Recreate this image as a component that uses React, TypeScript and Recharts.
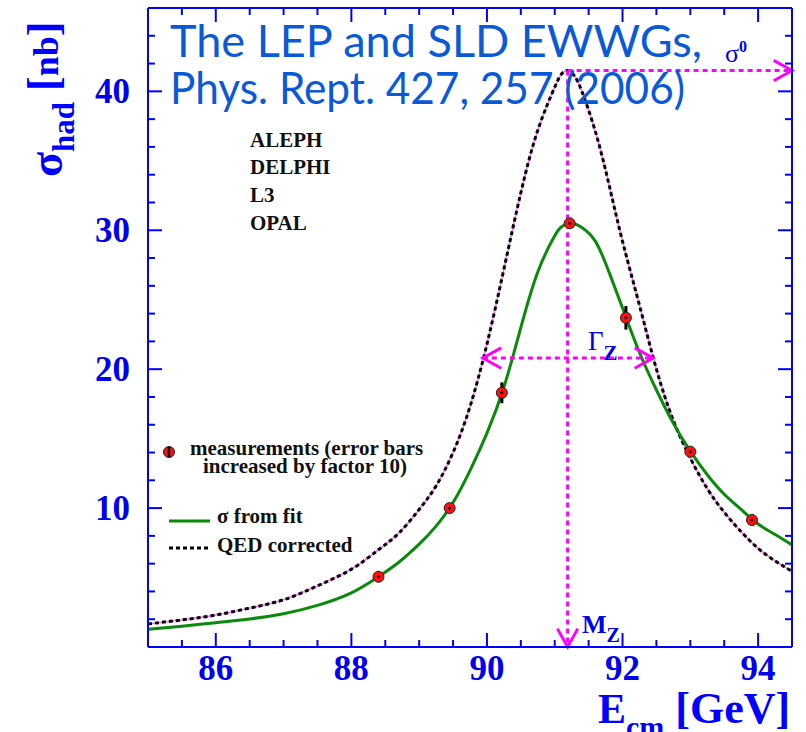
import React from 'react';
import { ComposedChart, Line, Scatter, XAxis, YAxis, ReferenceLine, ErrorBar } from 'recharts';

// ---- data ----
const energies = [85, 85.5, 86, 86.5, 87, 87.5, 88, 88.4, 88.7, 89, 89.25, 89.5, 89.75, 90, 90.25, 90.5, 90.75, 91, 91.1, 91.2, 91.3, 91.4, 91.6, 91.8, 92, 92.25, 92.5, 92.75, 93, 93.25, 93.5, 93.75, 94, 94.25, 94.5];
const fitValues = [1.27, 1.5, 1.75, 2.02, 2.4, 3.0, 3.9, 5.06, 6.1, 7.4, 8.7, 10.4, 12.7, 15.4, 18.7, 23.0, 27.0, 29.6, 30.25, 30.5, 30.45, 30.2, 29.2, 27.0, 24.4, 21.2, 18.5, 16.1, 14.1, 12.4, 11.0, 9.9, 8.85, 8.1, 7.35];
const qedValues = [1.66, 1.95, 2.3, 2.8, 3.4, 4.4, 5.6, 7.0, 8.2, 9.9, 11.6, 14.0, 17.3, 21.8, 27.2, 32.7, 37.2, 40.3, 41.25, 41.5, 41.05, 40.0, 37.1, 33.3, 29.2, 24.6, 20.0, 16.3, 13.6, 11.4, 9.7, 8.3, 7.1, 6.2, 5.45];

const measEnergies = [88.4, 89.45, 90.22, 91.22, 92.05, 93.0, 93.91];
const measSigma = [5.06, 10.0, 18.3, 30.5, 23.7, 14.06, 9.14];
const measErr = [0.4, 0.25, 0.75, 0.3, 0.85, 0.25, 0.35];

const xTicks = [85.5, 86, 86.5, 87, 87.5, 88, 88.5, 89, 89.5, 90, 90.5, 91, 91.5, 92, 92.5, 93, 93.5, 94];
const xMajor = [86, 88, 90, 92, 94];
const yTicks = [2, 4, 6, 8, 10, 12, 14, 16, 18, 20, 22, 24, 26, 28, 30, 32, 34, 36, 38, 40, 42, 44];
const yMajor = [10, 20, 30, 40];

const massZ = 91.19;
const sigma0 = 41.5;
const halfMax = 20.8;
const gammaLow = 89.94;
const gammaHigh = 92.45;

const fitData = energies.map((e, i) => ({ e, s: fitValues[i] }));
const qedData = energies.map((e, i) => ({ e, s: qedValues[i] }));
const measData = measEnergies.map((e, i) => ({ e, s: measSigma[i], err: measErr[i] }));

// ---- styles ----
const AXIS = '#0000ff';
const LABEL = '#0000ee';
const MAG = '#ff00ff';
const GREEN = '#0a8a0a';
const TITLE = '#0a5ad8';
const SERIF = '"Liberation Serif", "Times New Roman", serif';
const SANS = 'Lato, "Open Sans", sans-serif';

const BottomTick = (p: any) => {
  const v = p.payload.value;
  const major = xMajor.includes(v);
  return (
    <g>
      <line x1={p.x} x2={p.x} y1={p.y} y2={p.y - (major ? 14 : 7)} stroke={AXIS} strokeWidth={2} />
      {major && (
        <text x={p.x} y={p.y + 33} textAnchor="middle" fontFamily={SERIF} fontWeight="bold" fontSize={35} fill={LABEL}>
          {v}
        </text>
      )}
    </g>
  );
};
const TopTick = (p: any) => {
  const v = p.payload.value;
  const major = xMajor.includes(v);
  return <line x1={p.x} x2={p.x} y1={p.y} y2={p.y + (major ? 14 : 7)} stroke={AXIS} strokeWidth={2} />;
};
const LeftTick = (p: any) => {
  const v = p.payload.value;
  const major = yMajor.includes(v);
  return (
    <g>
      <line x1={p.x} x2={p.x + (major ? 14 : 7)} y1={p.y} y2={p.y} stroke={AXIS} strokeWidth={2} />
      {major && (
        <text x={p.x - 18} y={p.y + 12} textAnchor="end" fontFamily={SERIF} fontWeight="bold" fontSize={35} fill={LABEL}>
          {v}
        </text>
      )}
    </g>
  );
};
const RightTick = (p: any) => {
  const v = p.payload.value;
  const major = yMajor.includes(v);
  return <line x1={p.x} x2={p.x - (major ? 14 : 7)} y1={p.y} y2={p.y} stroke={AXIS} strokeWidth={2} />;
};

const headPath = (x: number, y: number, dir: number) => {
  const L = 21;
  const a = Math.PI / 6.2;
  const bx1 = x - L * Math.cos(dir - a);
  const by1 = y - L * Math.sin(dir - a);
  const bx2 = x - L * Math.cos(dir + a);
  const by2 = y - L * Math.sin(dir + a);
  return `M${bx1},${by1} L${x},${y} L${bx2},${by2}`;
};

const makeArrow = (both: boolean) => (p: any) => {
  const { x1, y1, x2, y2 } = p;
  const dir = Math.atan2(y2 - y1, x2 - x1);
  let d = headPath(x2, y2, dir);
  if (both) d += ' ' + headPath(x1, y1, dir + Math.PI);
  return (
    <g>
      <line x1={x1} y1={y1} x2={x2} y2={y2} stroke={MAG} strokeWidth={3} strokeDasharray="5 4" />
      <path d={d} stroke={MAG} strokeWidth={3} fill="none" />
    </g>
  );
};

const MeasDot = (p: any) => (
  <g>
    <circle cx={p.cx} cy={p.cy} r={5.5} fill="#ff1010" stroke="#222" strokeWidth={1} />
    <circle cx={p.cx} cy={p.cy} r={1.5} fill="#000" />
  </g>
);
const NoShape = () => <g />;

export default function App() {
  return (
    <div style={{ position: 'absolute', left: 0, top: 0, width: 806, height: 732, background: '#fff' }}>
      <ComposedChart width={806} height={732} margin={{ top: 4, right: 10, bottom: 45, left: 88 }}>
        <XAxis
          dataKey="e"
          type="number"
          domain={[85, 94.5]}
          allowDataOverflow
          ticks={xTicks}
          interval={0}
          tick={BottomTick}
          tickLine={false}
          tickSize={0}
          tickMargin={0}
          height={40}
          axisLine={{ stroke: AXIS, strokeWidth: 2 }}
        />
        <XAxis
          xAxisId="top"
          orientation="top"
          dataKey="e"
          type="number"
          domain={[85, 94.5]}
          allowDataOverflow
          ticks={xTicks}
          interval={0}
          tick={TopTick}
          tickLine={false}
          tickSize={0}
          tickMargin={0}
          height={4}
          axisLine={{ stroke: AXIS, strokeWidth: 2 }}
        />
        <YAxis
          dataKey="s"
          type="number"
          domain={[0, 46]}
          allowDataOverflow
          ticks={yTicks}
          interval={0}
          tick={LeftTick}
          tickLine={false}
          tickSize={0}
          tickMargin={0}
          width={60}
          axisLine={{ stroke: AXIS, strokeWidth: 2 }}
        />
        <YAxis
          yAxisId="right"
          orientation="right"
          type="number"
          domain={[0, 46]}
          allowDataOverflow
          ticks={yTicks}
          interval={0}
          tick={RightTick}
          tickLine={false}
          tickSize={0}
          tickMargin={0}
          width={4}
          axisLine={{ stroke: AXIS, strokeWidth: 2 }}
        />
        <Line data={qedData} dataKey="s" type="natural" stroke="#ff66ff" strokeWidth={1.5} dot={false} isAnimationActive={false} />
        <Line data={qedData} dataKey="s" type="natural" stroke="#000" strokeWidth={3} strokeDasharray="4 3" dot={false} isAnimationActive={false} />
        <Line data={fitData} dataKey="s" type="natural" stroke={GREEN} strokeWidth={3} dot={false} isAnimationActive={false} />
        <ReferenceLine segment={[{ x: massZ, y: sigma0 }, { x: massZ, y: 0 }]} ifOverflow="visible" shape={makeArrow(false)} />
        <ReferenceLine segment={[{ x: massZ, y: sigma0 }, { x: 94.5, y: sigma0 }]} ifOverflow="visible" shape={makeArrow(false)} />
        <ReferenceLine segment={[{ x: gammaLow, y: halfMax }, { x: gammaHigh, y: halfMax }]} ifOverflow="visible" shape={makeArrow(true)} />
        <Scatter data={measData} dataKey="s" shape={MeasDot} isAnimationActive={false} />
        <Scatter data={measData} dataKey="s" shape={NoShape} isAnimationActive={false}>
          <ErrorBar dataKey="err" direction="y" width={0} stroke="#000" strokeWidth={3} isAnimationActive={false} />
        </Scatter>
      </ComposedChart>
      <svg width={806} height={732} style={{ position: 'absolute', left: 0, top: 0, pointerEvents: 'none' }}>
        {/* title */}
        <text x={170} y={57} fontFamily={SANS} fontSize={45} fill={TITLE} textLength={532} lengthAdjust="spacingAndGlyphs">The LEP and SLD EWWGs,</text>
        <text x={170} y={104} fontFamily={SANS} fontSize={45} fill={TITLE} textLength={515} lengthAdjust="spacingAndGlyphs">Phys. Rept. 427, 257 (2006)</text>
        {/* annotations */}
        <text x={725} y={62} fontFamily={SERIF} fontSize={26} fill={LABEL}>
          σ<tspan fontSize={16} fontWeight="bold" dy={-10}>0</tspan>
        </text>
        <text x={588} y={350} fontFamily={SERIF} fontSize={27} fill={LABEL}>
          Γ<tspan fontSize={21} fontWeight="bold" dy={10}>Z</tspan>
        </text>
        <text x={582} y={633} fontFamily={SERIF} fontWeight="bold" fontSize={26} fill={LABEL}>
          M<tspan fontSize={20} dy={9}>Z</tspan>
        </text>
        {/* experiments */}
        <g fontFamily={SERIF} fontWeight="bold" fontSize={21} fill="#111">
          <text x={250} y={147}>ALEPH</text>
          <text x={250} y={174}>DELPHI</text>
          <text x={250} y={202}>L3</text>
          <text x={250} y={230}>OPAL</text>
        </g>
        {/* legend */}
        <g fontFamily={SERIF} fontWeight="bold" fontSize={21} fill="#111">
          <circle cx={169} cy={452} r={5.5} fill="#ff1010" stroke="#222" strokeWidth={1} />
          <line x1={169} x2={169} y1={447} y2={457} stroke="#000" strokeWidth={2.5} />
          <text x={190} y={455}>measurements (error bars</text>
          <text x={203} y={473}>increased by factor 10)</text>
          <line x1={169} x2={210} y1={521} y2={521} stroke={GREEN} strokeWidth={3} />
          <text x={217} y={523}>σ from fit</text>
          <line x1={169} x2={210} y1={548} y2={548} stroke="#000" strokeWidth={3} strokeDasharray="4 3" />
          <text x={217} y={552}>QED corrected</text>
        </g>
        {/* axis titles */}
        <text transform="translate(62,177) rotate(-90)" fontFamily={SERIF} fontWeight="bold" fill={AXIS}>
          <tspan fontSize={46}>σ</tspan>
          <tspan fontSize={31} dy={12}>had</tspan>
          <tspan fontSize={44} dy={-16}> [</tspan>
          <tspan fontSize={36}>nb</tspan>
          <tspan fontSize={44}>]</tspan>
        </text>
        <text x={598} y={723} fontFamily={SERIF} fontWeight="bold" fill={AXIS}>
          <tspan fontSize={42}>E</tspan>
          <tspan fontSize={30} dy={14}>cm</tspan>
          <tspan fontSize={44} dy={-14}> [GeV]</tspan>
        </text>
      </svg>
    </div>
  );
}
